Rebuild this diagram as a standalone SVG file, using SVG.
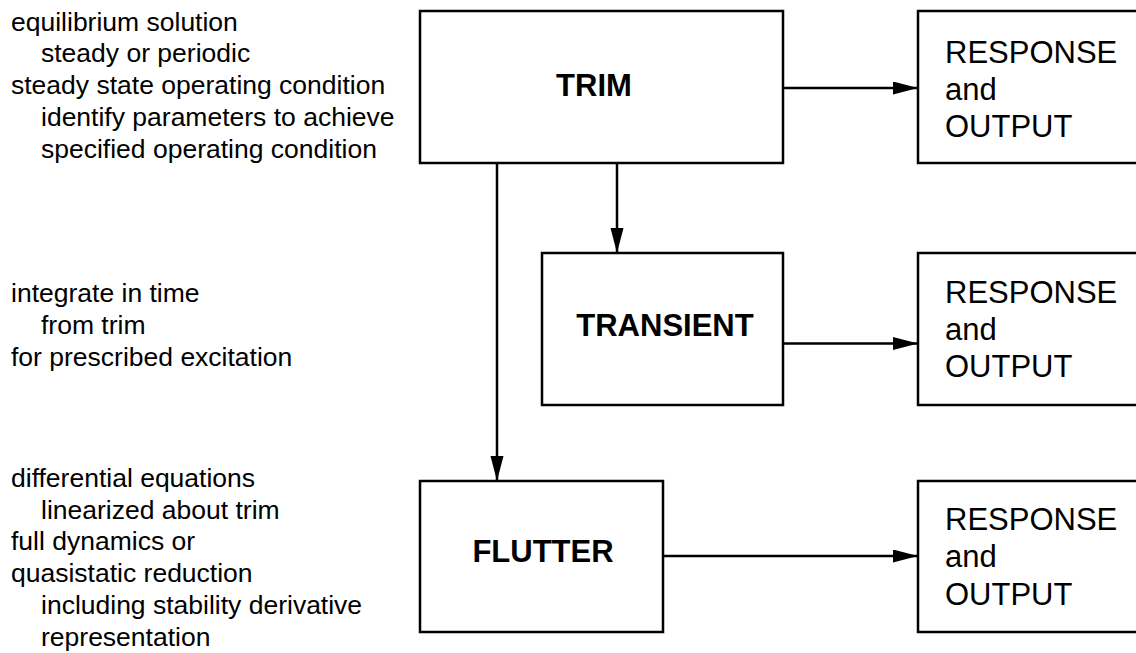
<svg xmlns="http://www.w3.org/2000/svg" width="1136" height="653" viewBox="0 0 1136 653">
  <style>
    .box { fill: #ffffff; stroke: #000000; stroke-width: 2.5; }
    .title { font-family: "Liberation Sans", Arial, Helvetica, sans-serif; font-size: 31px; font-weight: bold; fill: #000000; text-anchor: middle; }
    .out { font-family: "Liberation Sans", Arial, Helvetica, sans-serif; font-size: 31px; fill: #000000; }
    .note { font-family: "Liberation Sans", Arial, Helvetica, sans-serif; font-size: 26.5px; fill: #000000; }
    .conn { fill: none; stroke: #000000; stroke-width: 2.5; marker-end: url(#arrow); }
  </style>
  <defs>
    <marker id="arrow" markerUnits="userSpaceOnUse" markerWidth="26" markerHeight="14" refX="25" refY="6.5" orient="auto">
      <path d="M0,0 L25,6.5 L0,13 Z" fill="#000000"/>
    </marker>
  </defs>
  <rect width="1136" height="653" fill="#ffffff"/>

  <!-- descriptive notes, left column -->
  <g id="notes-trim">
    <text class="note" x="11" y="30.5">equilibrium solution</text>
    <text class="note" x="41" y="62">steady or periodic</text>
    <text class="note" x="11" y="94">steady state operating condition</text>
    <text class="note" x="41" y="126">identify parameters to achieve</text>
    <text class="note" x="41" y="158">specified operating condition</text>
  </g>
  <g id="notes-transient">
    <text class="note" x="11" y="302">integrate in time</text>
    <text class="note" x="41" y="334">from trim</text>
    <text class="note" x="11" y="366">for prescribed excitation</text>
  </g>
  <g id="notes-flutter">
    <text class="note" x="11" y="487">differential equations</text>
    <text class="note" x="41" y="518.5">linearized about trim</text>
    <text class="note" x="11" y="550">full dynamics or</text>
    <text class="note" x="11" y="582">quasistatic reduction</text>
    <text class="note" x="41" y="614">including stability derivative</text>
    <text class="note" x="41" y="646">representation</text>
  </g>

  <!-- connectors -->
  <g id="connectors">
    <path class="conn" d="M783,88 H918"/>
    <path class="conn" d="M783,343.5 H918"/>
    <path class="conn" d="M663,556 H918"/>
    <path class="conn" d="M617,163 V253"/>
    <path class="conn" d="M497,163 V481"/>
  </g>

  <!-- analysis blocks -->
  <g id="trim">
    <rect class="box" x="420" y="11" width="363" height="152"/>
    <text class="title" x="594" y="96">TRIM</text>
  </g>
  <g id="transient">
    <rect class="box" x="542" y="253" width="241" height="152"/>
    <text class="title" x="665" y="336">TRANSIENT</text>
  </g>
  <g id="flutter">
    <rect class="box" x="420" y="481" width="243" height="151"/>
    <text class="title" x="543" y="562">FLUTTER</text>
  </g>

  <!-- output blocks -->
  <g id="response-trim">
    <rect class="box" x="918" y="11" width="230" height="152"/>
    <text class="out" x="945" y="63">RESPONSE</text>
    <text class="out" x="945" y="100">and</text>
    <text class="out" x="945" y="137">OUTPUT</text>
  </g>
  <g id="response-transient">
    <rect class="box" x="918" y="253" width="230" height="152"/>
    <text class="out" x="945" y="303">RESPONSE</text>
    <text class="out" x="945" y="340">and</text>
    <text class="out" x="945" y="377">OUTPUT</text>
  </g>
  <g id="response-flutter">
    <rect class="box" x="918" y="481" width="230" height="151"/>
    <text class="out" x="945" y="530">RESPONSE</text>
    <text class="out" x="945" y="567">and</text>
    <text class="out" x="945" y="604.5">OUTPUT</text>
  </g>
</svg>
